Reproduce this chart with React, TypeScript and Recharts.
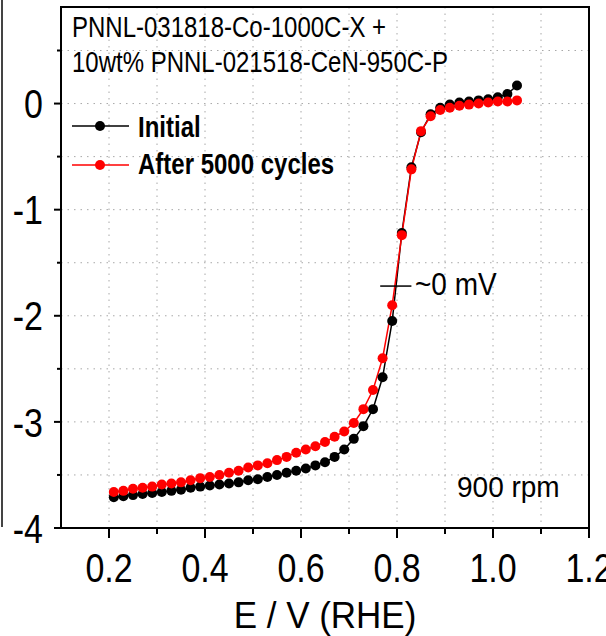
import { LineChart, Line, XAxis, YAxis, CartesianGrid, ReferenceLine, ReferenceArea } from "recharts";

const potential = [
  0.21, 0.23, 0.25, 0.27, 0.29, 0.31, 0.33, 0.35, 0.37, 0.39, 0.41, 0.43, 0.45, 0.47, 0.49,
  0.51, 0.53, 0.55, 0.57, 0.59, 0.61, 0.63, 0.65, 0.67, 0.69, 0.71, 0.73, 0.75, 0.77, 0.79,
  0.81, 0.83, 0.85, 0.87, 0.89, 0.91, 0.93, 0.95, 0.97, 0.99, 1.01, 1.03, 1.05,
];

const initial = [
  -3.71, -3.7, -3.69, -3.68, -3.67, -3.66, -3.65, -3.64, -3.62, -3.61, -3.6, -3.59, -3.58, -3.57, -3.55,
  -3.54, -3.52, -3.5, -3.48, -3.46, -3.44, -3.41, -3.38, -3.33, -3.26, -3.16, -3.04, -2.88, -2.58, -2.05,
  -1.22, -0.6, -0.27, -0.1, -0.04, -0.01, 0.01, 0.02, 0.03, 0.04, 0.06, 0.09, 0.17,
];

const after5000 = [
  -3.66, -3.65, -3.63, -3.62, -3.61, -3.59, -3.58, -3.57, -3.55, -3.53, -3.52, -3.5, -3.48, -3.46, -3.43,
  -3.41, -3.39, -3.36, -3.33, -3.29, -3.26, -3.23, -3.19, -3.14, -3.09, -3.01, -2.88, -2.7, -2.4, -1.9,
  -1.24, -0.62, -0.26, -0.12, -0.06, -0.04, -0.02, -0.01, 0.0, 0.01, 0.02, 0.02, 0.03,
];

// every 0.1 V; labels only on the even ones
const xTicks = [0.2, 0.3, 0.4, 0.5, 0.6, 0.7, 0.8, 0.9, 1.0, 1.1, 1.2];
const xLabelled = [0.2, 0.4, 0.6, 0.8, 1.0, 1.2];
// every 0.5 mA; labels only on integers
const yTicks = [-4, -3.5, -3, -2.5, -2, -1.5, -1, -0.5, 0, 0.5];

const X_DOMAIN = [0.1, 1.2];
const Y_DOMAIN = [-4, 0.91];

const data = potential.map((e, i) => ({ e, initial: initial[i], after: after5000[i] }));

const FONT = '"Liberation Sans", Arial, sans-serif';

const isMajorX = (v: number) => xLabelled.some((m) => Math.abs(m - v) < 1e-6);

const XTick = ({ x, y, payload }: any) => {
  const major = isMajorX(payload.value);
  return (
    <g transform={`translate(${x},${y})`}>
      <line x1={0} y1={0} x2={0} y2={major ? 10 : 6} stroke="#000" strokeWidth={2} />
      {major && (
        <g transform="translate(0,54) scale(1,1.2)">
          <text textAnchor="middle" fontSize={34} fontFamily={FONT} fill="#000">
            {payload.value.toFixed(1)}
          </text>
        </g>
      )}
    </g>
  );
};

const YTick = ({ x, y, payload }: any) => {
  const major = Number.isInteger(payload.value);
  return (
    <g transform={`translate(${x},${y})`}>
      <line x1={0} y1={0} x2={major ? -7 : -4} y2={0} stroke="#000" strokeWidth={2} />
      {major && (
        <g transform="translate(-18,0) scale(1,1.2)">
          <text textAnchor="end" dy="0.36em" fontSize={34} fontFamily={FONT} fill="#000">
            {String(payload.value)}
          </text>
        </g>
      )}
    </g>
  );
};

export default function App() {
  return (
    <div style={{ position: "absolute", left: 0, top: 0, width: 606, height: 636, background: "#fff" }}>
      <LineChart width={606} height={636} data={data} margin={{ top: 7, right: 17, bottom: 8, left: 0 }}>
        <CartesianGrid stroke="#a8a8a8" strokeDasharray="1.5 5" />
        <XAxis dataKey="e" type="number" domain={X_DOMAIN} ticks={xTicks} interval={0}
          height={100} tickSize={0} tickMargin={0} tickLine={false} tick={<XTick />}
          axisLine={{ stroke: "#000", strokeWidth: 2 }} />
        <YAxis type="number" domain={Y_DOMAIN} ticks={yTicks} interval={0} width={61}
          tickSize={0} tickMargin={0} tickLine={false} tick={<YTick />}
          axisLine={{ stroke: "#000", strokeWidth: 2 }} />

        <ReferenceArea x1={X_DOMAIN[0]} x2={X_DOMAIN[1]} y1={Y_DOMAIN[0]} y2={Y_DOMAIN[1]}
          fill="none" fillOpacity={0} stroke="#000" strokeWidth={2} />

        <Line dataKey="initial" type="linear" stroke="#000" strokeWidth={1.5}
          dot={{ r: 5, fill: "#000", stroke: "none" }} isAnimationActive={false} />
        <Line dataKey="after" type="linear" stroke="#ff0000" strokeWidth={1.5}
          dot={{ r: 5, fill: "#ff0000", stroke: "none" }} isAnimationActive={false} />

        <ReferenceLine segment={[{ x: 0.765, y: -1.72 }, { x: 0.83, y: -1.72 }]}
          stroke="#000" strokeWidth={1.5} />
      </LineChart>

      <svg width={606} height={636} style={{ position: "absolute", left: 0, top: 0, pointerEvents: "none" }}
        fontFamily={FONT}>
        <line x1={2} y1={0} x2={2} y2={527} stroke="#444" strokeWidth={2} />
        <g transform="translate(72,37) scale(1,1.2)">
          <text fontSize={24} fill="#000">PNNL-031818-Co-1000C-X +</text>
        </g>
        <g transform="translate(72,72) scale(1,1.2)">
          <text fontSize={24} fill="#000">10wt% PNNL-021518-CeN-950C-P</text>
        </g>

        <line x1={72} y1={126} x2={129} y2={126} stroke="#000" strokeWidth={1.5} />
        <circle cx={100} cy={126} r={5} fill="#000" />
        <g transform="translate(138,137) scale(1,1.2)">
          <text fontSize={24} fontWeight="bold" fill="#000">Initial</text>
        </g>

        <line x1={72} y1={165} x2={129} y2={165} stroke="#ff0000" strokeWidth={1.5} />
        <circle cx={100} cy={165} r={5} fill="#ff0000" />
        <g transform="translate(138,174) scale(1,1.2)">
          <text fontSize={24} fontWeight="bold" fill="#000">After 5000 cycles</text>
        </g>

        <g transform="translate(415,295) scale(1,1.12)">
          <text fontSize={28} fill="#000">~0 mV</text>
        </g>
        <g transform="translate(457,497) scale(1,1.08)">
          <text fontSize={28} fill="#000">900 rpm</text>
        </g>
        <g transform="translate(325,628) scale(1,1.08)">
          <text fontSize={35} textAnchor="middle" fill="#000">E / V (RHE)</text>
        </g>
      </svg>
    </div>
  );
}
